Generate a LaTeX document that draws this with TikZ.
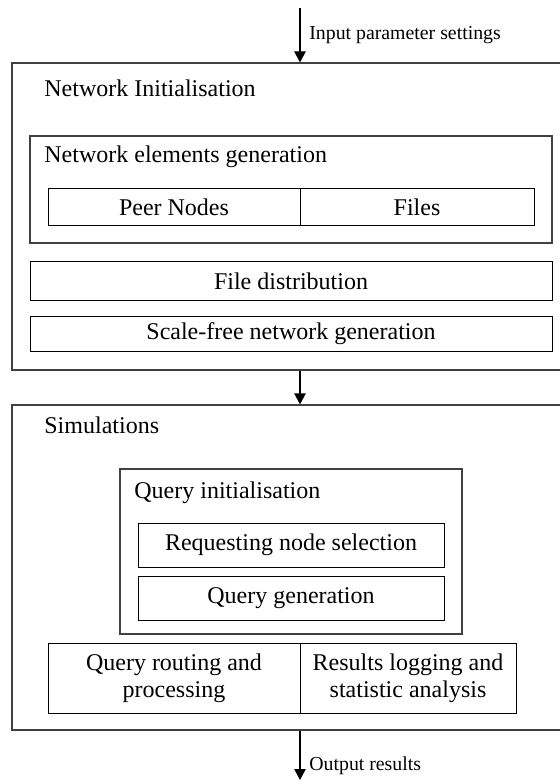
\documentclass[tikz,border=0pt]{standalone}
\usepackage{fontspec}
\setmainfont{Liberation Serif}
\usetikzlibrary{arrows.meta}
\tikzset{
  frame/.style={draw=black!75,line width=0.6pt,inner sep=0pt},      % outer stage box
  blk/.style={draw=black,line width=0.5pt,inner sep=0pt,align=center,
    font=\fontsize{12}{13.5}\selectfont},                           % task box
  ttl/.style={anchor=base west,inner sep=0pt,font=\fontsize{12}{13.5}\selectfont},
  lbl/.style={anchor=base west,inner sep=0pt,font=\fontsize{9.9}{11}\selectfont},
  flow/.style={-{Triangle[width=5.7pt,length=5.5pt]},line width=0.6pt},
}

\begin{document}
\begin{tikzpicture}[x=0.5pt,y=-0.5pt]
  \useasboundingbox (0,0) rectangle (559,780);
  \coordinate (in) at (300,8);
  \coordinate (out) at (300,780);
  % network initialisation
  \node[frame,minimum width=276pt,minimum height=153.5pt] (netinit) at (288,216.5) {};
  \node[ttl] (netinitT) at (44,97) {Network Initialisation};
  \node[frame,minimum width=261pt,minimum height=53.5pt] (elemgen) at (291,189.5) {};
  \node[ttl] (elemgenT) at (44,163) {Network elements generation};
  \node[blk,minimum width=126pt,minimum height=18.5pt] (peer) at (174,207.5) {Peer Nodes};
  \node[blk,minimum width=117pt,minimum height=18.5pt] (files) at (417,207.5) {Files};
  \node[blk,minimum width=261pt,minimum height=19pt] (filedist) at (291,281) {File distribution};
  \node[blk,minimum width=261pt,minimum height=17.5pt] (scalefree) at (291,333.5) {Scale-free network generation};
  % simulations
  \node[frame,minimum width=276pt,minimum height=162.5pt] (sim) at (288,567.5) {};
  \node[ttl] (simT) at (44,433) {Simulations};
  \node[frame,minimum width=171pt,minimum height=82.5pt] (qinit) at (291,551.5) {};
  \node[ttl] (qinitT) at (134,498) {Query initialisation};
  \node[blk,minimum width=153pt,minimum height=22pt] (reqsel) at (291,545) {Requesting node selection};
  \node[blk,minimum width=153pt,minimum height=22pt] (qgen) at (291,598) {Query generation};
  \node[blk,minimum width=126pt,minimum height=35pt] (routing) at (174,678) {Query routing and\\processing};
  \node[blk,minimum width=108pt,minimum height=35pt] (results) at (408,678) {Results logging and\\statistic analysis};
  % flow between stages
  \draw[flow] (in) -- (in |- netinit.north);
  \draw[flow] (netinit.south -| in) -- (sim.north -| in);
  \draw[flow] (sim.south -| out) -- (out);
  \node[lbl] (inL) at (309,40) {Input parameter settings};
  \node[lbl] (outL) at (309,770) {Output results};
\end{tikzpicture}
\end{document}
